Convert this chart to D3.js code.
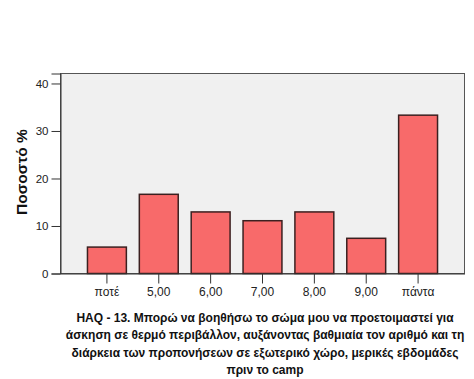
<!DOCTYPE html>
<html><head><meta charset="utf-8">
<script src="https://cdn.jsdelivr.net/npm/d3@7"></script>
<style>body{margin:0;background:#fff;} svg{display:block;}</style>
</head><body>
<svg id="c" width="474" height="379"></svg>
<script>
const categories = ["ποτέ","5,00","6,00","7,00","8,00","9,00","πάντα"];
const values = [5.56, 16.67, 12.96, 11.11, 12.96, 7.41, 33.33];
const yTicks = [0,10,20,30,40];
const titleLines = ["HAQ - 13. Μπορώ να βοηθήσω το σώμα μου να προετοιμαστεί για",
  "άσκηση σε θερμό περιβάλλον, αυξάνοντας βαθμιαία τον αριθμό και τη",
  "διάρκεια των προπονήσεων σε εξωτερικό χώρο, μερικές εβδομάδες",
  "πριν το camp"];
const yLabel = "Ποσοστό %";

const svg = d3.select("#c");
const L=60.5, R=464.5, T=73.5, B=273.5;
const x = d3.scaleBand().domain(categories).range([L,R]).paddingInner(0.25).paddingOuter(0.52);
const y = d3.scaleLinear().domain([0,42.1]).range([B,T]);

svg.append("rect").attr("x",L).attr("y",T).attr("width",R-L).attr("height",B-T)
  .attr("fill","#f0f0f0").attr("stroke","#555").attr("stroke-width",1);

svg.selectAll("rect.bar").data(values).join("rect").attr("class","bar")
  .attr("x",(d,i)=>x(categories[i])).attr("width",x.bandwidth())
  .attr("y",d=>y(d)).attr("height",d=>y(0)-y(d))
  .attr("fill","#f86a6a").attr("stroke","#3b2020").attr("stroke-width",1.5);

const ya = svg.append("g").attr("transform",`translate(${L},0)`)
  .call(d3.axisLeft(y).tickValues(yTicks).tickSize(9).tickPadding(3).tickFormat(d3.format("d")));
ya.select(".domain").attr("stroke","#333");
ya.selectAll(".tick line").attr("stroke","#333");
ya.selectAll("text").attr("font-family","Liberation Sans, Arial").attr("font-size",11.5).attr("fill","#222");

const xa = svg.append("g").attr("transform",`translate(0,${B})`)
  .call(d3.axisBottom(x).tickSize(10).tickPadding(4).tickSizeOuter(0));
xa.select(".domain").attr("stroke","#333");
xa.selectAll(".tick line").attr("stroke","#333");
xa.selectAll("text").attr("font-family","Liberation Sans, Arial").attr("font-size",12).attr("fill","#222");

svg.append("text").attr("transform","translate(27,172) rotate(-90)")
  .attr("text-anchor","middle").attr("font-family","Liberation Sans, Arial")
  .attr("font-weight","bold").attr("font-size",15.5).attr("fill","#111").text(yLabel);

svg.append("g").selectAll("text").data(titleLines).join("text")
  .attr("x",265).attr("y",(d,i)=>322+i*17.3).attr("text-anchor","middle")
  .attr("font-family","Liberation Sans, Arial").attr("font-weight","bold")
  .attr("font-size",12).attr("fill","#111").text(d=>d);
</script>
</body></html>
